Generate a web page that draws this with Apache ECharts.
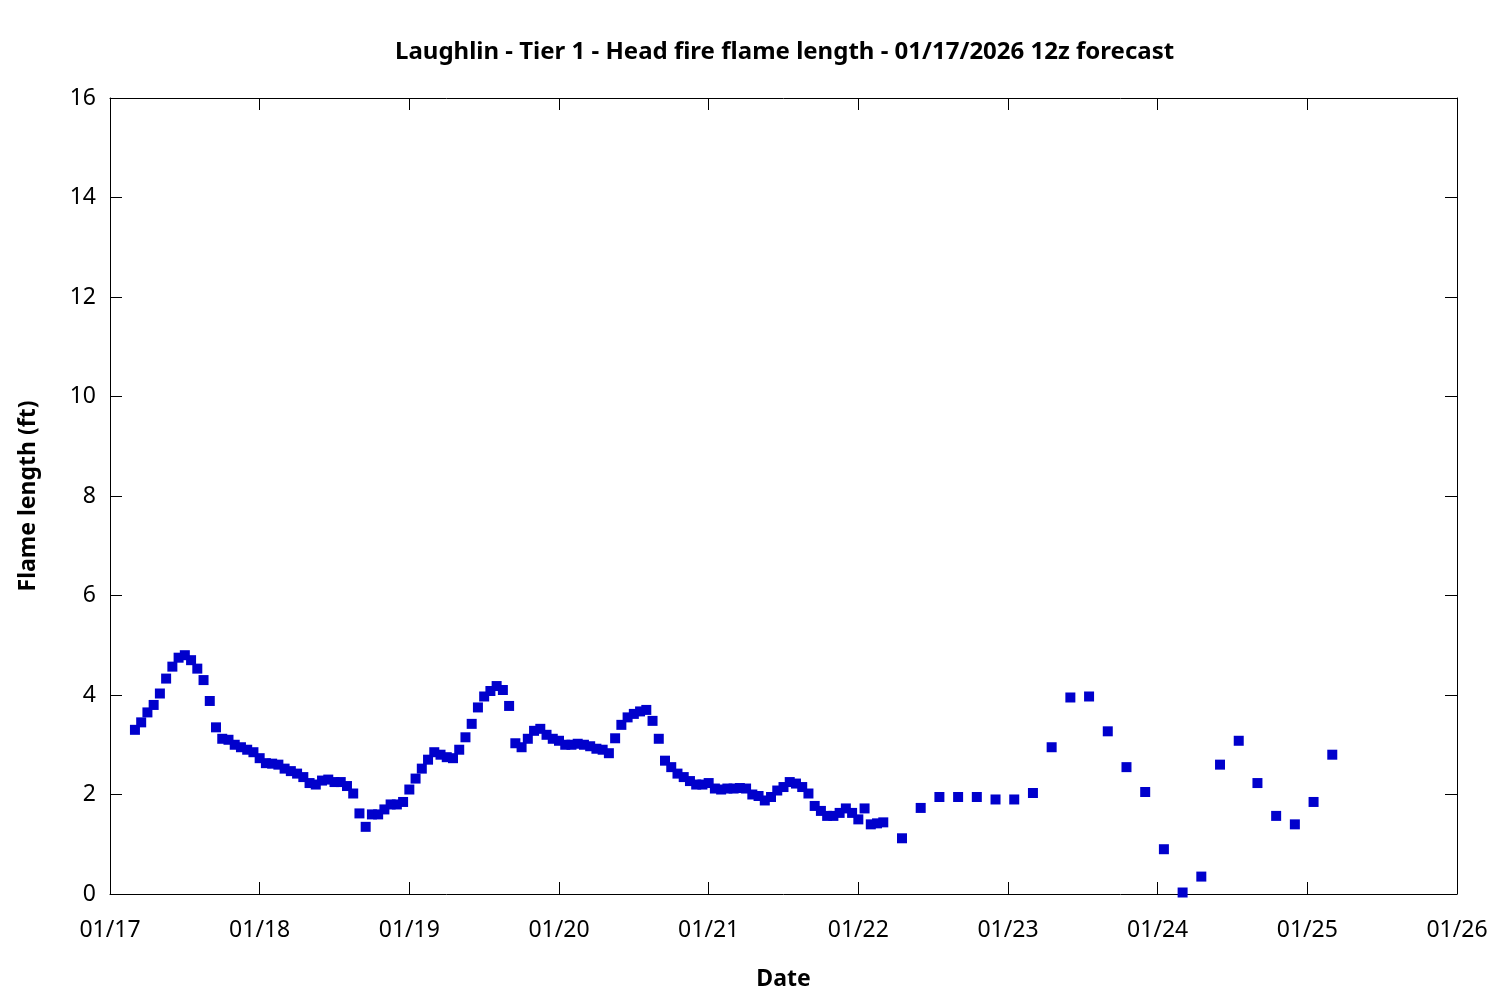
<!DOCTYPE html>
<html>
<head>
<meta charset="utf-8">
<script src="https://cdn.jsdelivr.net/npm/echarts@6/dist/echarts.min.js"></script>
<style>html,body{margin:0;padding:0;background:#fff}#c{width:1500px;height:1000px}</style>
</head>
<body>
<div id="c"></div>
<script>
// Hours since 01/17 00z
const hours = [4,5,6,7,8,9,10,11,12,13,14,15,16,17,18,19,20,21,22,23,24,25,26,27,28,29,30,31,32,33,34,35,36,37,38,39,40,41,42,43,44,45,46,47,48,49,50,51,52,53,54,55,56,57,58,59,60,61,62,63,64,65,66,67,68,69,70,71,72,73,74,75,76,77,78,79,80,81,82,83,84,85,86,87,88,89,90,91,92,93,94,95,96,97,98,99,100,101,102,103,104,105,106,107,108,109,110,111,112,113,114,115,116,117,118,119,120,121,122,123,124,127,130,133,136,139,142,145,148,151,154,157,160,163,166,169,172,175,178,181,184,187,190,193,196];
const flameLength = [3.3,3.45,3.65,3.8,4.03,4.33,4.57,4.75,4.8,4.7,4.53,4.3,3.88,3.35,3.12,3.1,3.0,2.95,2.9,2.85,2.73,2.63,2.62,2.6,2.52,2.47,2.42,2.35,2.23,2.2,2.28,2.3,2.25,2.25,2.17,2.02,1.62,1.35,1.6,1.6,1.7,1.8,1.8,1.85,2.1,2.32,2.52,2.7,2.85,2.8,2.75,2.73,2.9,3.15,3.42,3.75,3.97,4.08,4.18,4.1,3.78,3.03,2.95,3.12,3.28,3.32,3.2,3.12,3.08,3.0,3.0,3.02,3.0,2.97,2.92,2.9,2.83,3.13,3.4,3.55,3.62,3.67,3.7,3.48,3.12,2.68,2.55,2.42,2.35,2.27,2.2,2.2,2.23,2.12,2.1,2.12,2.12,2.13,2.12,2.0,1.97,1.88,1.95,2.08,2.15,2.25,2.22,2.15,2.02,1.77,1.67,1.57,1.57,1.63,1.72,1.63,1.5,1.72,1.4,1.42,1.44,1.12,1.73,1.95,1.95,1.95,1.9,1.9,2.03,2.95,3.95,3.97,3.27,2.55,2.05,0.9,0.03,0.35,2.6,3.08,2.23,1.57,1.4,1.85,2.8];
const xTickLabels = ['01/17','01/18','01/19','01/20','01/21','01/22','01/23','01/24','01/25','01/26'];

const chart = echarts.init(document.getElementById('c'));
const font = '"Noto Sans", "Open Sans", sans-serif';
const data = hours.map((h, i) => [h, flameLength[i]]);
const tick = {show: true, inside: true, length: 12, lineStyle: {color: '#000', width: 1}};
const line = {show: true, onZero: false, lineStyle: {color: '#000', width: 1}};
chart.setOption({
  animation: false,
  backgroundColor: '#fff',
  title: {
    text: 'Laughlin - Tier 1 - Head fire flame length - 01/17/2026 12z forecast',
    left: 390, top: 35,
    textStyle: {fontFamily: font, fontWeight: 'bold', fontSize: 24, color: '#000'}
  },
  grid: {left: 110, right: 43, top: 98, bottom: 106, containLabel: false},
  xAxis: [{
    type: 'value', min: 0, max: 216, interval: 24,
    name: 'Date', nameLocation: 'middle', nameGap: 74,
    nameTextStyle: {fontFamily: font, fontWeight: 'bold', fontSize: 23, color: '#000'},
    axisLine: line, axisTick: tick, splitLine: {show: false},
    axisLabel: {fontFamily: font, fontSize: 23, color: '#000', margin: 25,
      formatter: v => xTickLabels[Math.round(v / 24)] || ''}
  }, {
    type: 'value', min: 0, max: 216, interval: 24, position: 'top',
    axisLine: line, axisTick: tick, splitLine: {show: false}, axisLabel: {show: false}
  }],
  yAxis: [{
    type: 'value', min: 0, max: 16, interval: 2,
    name: 'Flame length (ft)', nameLocation: 'middle', nameGap: 70, nameRotate: 90,
    nameTextStyle: {fontFamily: font, fontWeight: 'bold', fontSize: 23, color: '#000'},
    axisLine: line, axisTick: tick, splitLine: {show: false},
    axisLabel: {fontFamily: font, fontSize: 23, color: '#000', margin: 14}
  }, {
    type: 'value', min: 0, max: 16, interval: 2, position: 'right',
    axisLine: line, axisTick: tick, splitLine: {show: false}, axisLabel: {show: false}
  }],
  series: [{
    type: 'scatter', xAxisIndex: 0, yAxisIndex: 0,
    symbol: 'rect', symbolSize: 10,
    itemStyle: {color: '#0000cc', opacity: 1},
    data: data
  }]
});
</script>
</body>
</html>
